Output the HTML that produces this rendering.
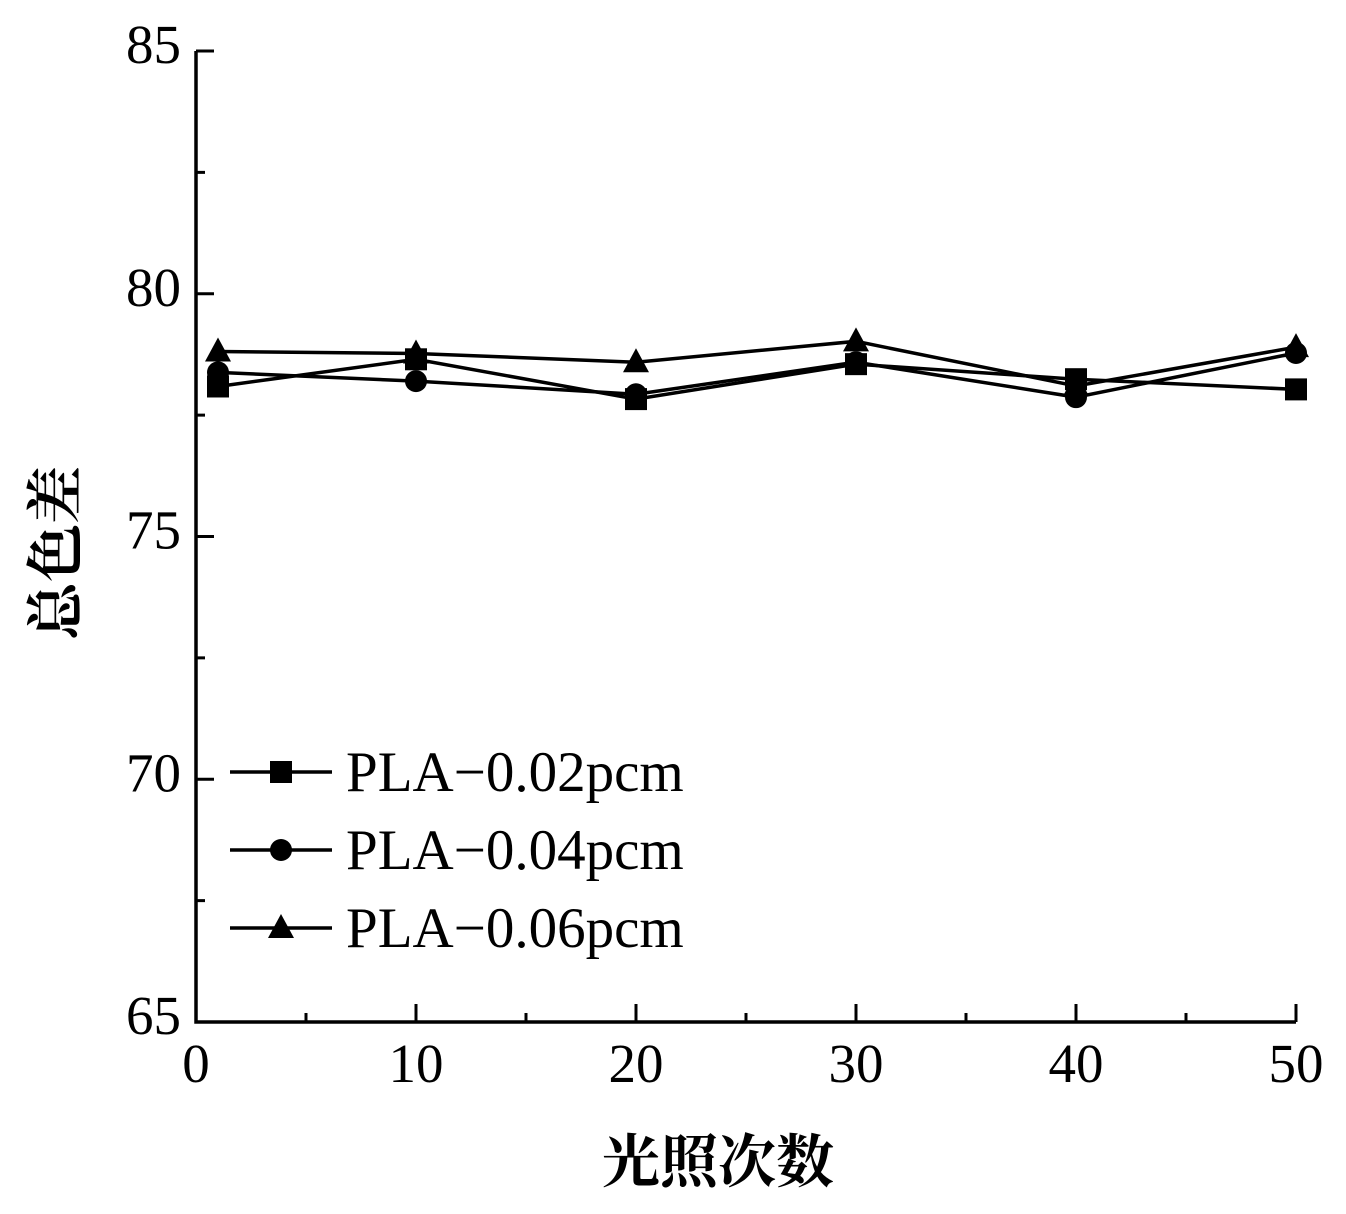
<!DOCTYPE html>
<html><head><meta charset="utf-8"><style>
body{margin:0;background:#fff}
svg text{font-family:"Liberation Serif","Noto Serif CJK SC",serif;fill:#000}
</style></head><body>
<svg width="1346" height="1209" id="c">
</svg>
<script>
const xTicks=[0,10,20,30,40,50];
const yTicks=[65,70,75,80,85];
const xs=[1,10,20,30,40,50];
const s1=[78.09,78.65,77.83,78.55,78.24,78.03];
const s2=[78.38,78.2,77.93,78.59,77.87,78.78];
const s3=[78.81,78.77,78.59,79.02,78.1,78.9];
const names=["PLA\u22120.02pcm","PLA\u22120.04pcm","PLA\u22120.06pcm"];
const NS="http://www.w3.org/2000/svg";
const svg=document.getElementById('c');
const X0=196,X1=1296,Y0=1022,Y1=51;
const sx=v=>X0+(v-0)/(50-0)*(X1-X0);
const sy=v=>Y0-(v-65)/(85-65)*(Y0-Y1);
function mk(t,a,p){const e=document.createElementNS(NS,t);for(const k in a)e.setAttribute(k,a[k]);(p||svg).appendChild(e);return e;}
let e=mk('path',{d:`M${X0},${Y1}V${Y0}H${X1}`,fill:'none',stroke:'#000','stroke-width':3.5});


for(let v=65;v<=85;v+=2.5){const maj=v%5===0;const t=mk('line',{x1:X0,x2:X0+(maj?18:9),y1:sy(v),y2:sy(v),stroke:'#000','stroke-width':3});

}
for(let v=0;v<=50;v+=5){const maj=v%10===0;const t=mk('line',{x1:sx(v),x2:sx(v),y1:Y0,y2:Y0-(maj?18:9),stroke:'#000','stroke-width':3});

}
yTicks.forEach(v=>{const t=mk('text',{x:181,y:sy(v)+12,'text-anchor':'end','font-size':55});t.textContent=v;

});
xTicks.forEach(v=>{const t=mk('text',{x:sx(v),y:1082,'text-anchor':'middle','font-size':55});t.textContent=v;

});
let t=mk('text',{x:718,y:1182,'text-anchor':'middle','font-size':58,'font-weight':'bold'});t.textContent='光照次数';


t=mk('text',{x:0,y:0,'text-anchor':'middle','font-size':58,'font-weight':'bold',transform:'translate(76,553) rotate(-90)'});t.textContent='总色差';


function marker(k,x,y,g){
 if(k===0)mk('rect',{x:x-11,y:y-11,width:22,height:22,fill:'#000'},g);
 else if(k===1)mk('circle',{cx:x,cy:y,r:11,fill:'#000'},g);
 else mk('polygon',{points:`${x},${y-14} ${x+13},${y+10} ${x-13},${y+10}`,fill:'#000'},g);
}
[s1,s2,s3].forEach((s,k)=>{
 const g=mk('g',{});
 
 
 mk('polyline',{points:xs.map((x,i)=>sx(x)+','+sy(s[i])).join(' '),fill:'none',stroke:'#000','stroke-width':3.5},g);
 xs.forEach((x,i)=>marker(k,sx(x),sy(s[i]),g));
 const ly=772+k*78;
 const lg=mk('g',{});
 
 
 mk('line',{x1:230,x2:332,y1:ly,y2:ly,stroke:'#000','stroke-width':3.5},lg);
 marker(k,281,ly,lg);
 const tx=mk('text',{x:346,y:ly+19,'font-size':57},lg);tx.textContent=names[k];
});
</script>
</body></html>
